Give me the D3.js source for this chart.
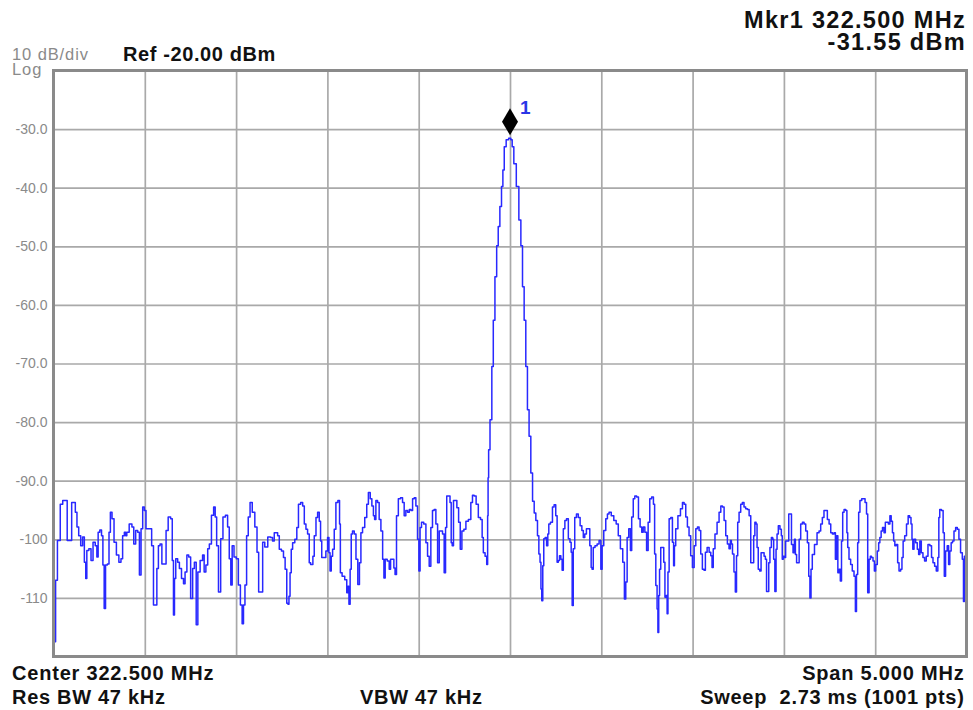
<!DOCTYPE html>
<html>
<head>
<meta charset="utf-8">
<script src="https://cdn.jsdelivr.net/npm/d3@7"></script>
<style>
  html, body { margin: 0; padding: 0; background: #fff; }
  svg { display: block; font-family: "Liberation Sans", Arial, Helvetica, sans-serif; }
</style>
</head>
<body>
<svg id="chart" width="973" height="710"></svg>
<script>
// Analyzer settings
const centerMHz = 322.5;
const spanMHz = 5;
const refLevelDbm = -20;
const dbPerDiv = 10;
const divisions = 10;
const resBwKHz = 47;
const vbwKHz = 47;
const sweepMs = 2.73;
const sweepPts = 1001;

// Left-axis labels (the top and bottom graticule lines carry none)
const yTickLevels = [-30, -40, -50, -60, -70, -80, -90, -100, -110];

// Marker 1
const markerMHz = 322.5;
const markerDbm = -31.55;

// Trace: [frequency MHz, level dBm]
const sweepPoints = [
  [320.000,-105.6],[320.008,-117.5],[320.015,-107.0],[320.028,-100.2],[320.046,-94.0],[320.055,-93.4],
  [320.068,-93.4],[320.082,-100.2],[320.095,-100.2],[320.104,-93.7],[320.115,-93.7],[320.124,-95.4],
  [320.133,-97.9],[320.143,-99.4],[320.155,-101.1],[320.164,-99.6],[320.174,-103.9],[320.179,-106.7],
  [320.186,-101.9],[320.201,-101.6],[320.210,-103.6],[320.223,-100.5],[320.234,-101.1],[320.241,-103.0],
  [320.248,-98.8],[320.259,-98.4],[320.267,-99.4],[320.274,-104.4],[320.281,-111.8],[320.289,-104.4],
  [320.301,-104.2],[320.307,-98.8],[320.316,-95.4],[320.325,-96.5],[320.338,-100.5],[320.351,-102.7],
  [320.365,-103.9],[320.374,-103.3],[320.383,-99.4],[320.393,-98.8],[320.398,-99.4],[320.405,-98.8],
  [320.424,-97.4],[320.435,-97.9],[320.444,-100.8],[320.456,-98.5],[320.466,-98.8],[320.475,-106.1],
  [320.484,-98.2],[320.493,-94.5],[320.502,-95.1],[320.511,-98.2],[320.533,-98.2],[320.542,-101.1],
  [320.553,-111.2],[320.562,-111.2],[320.570,-105.0],[320.579,-101.1],[320.588,-100.8],[320.599,-104.2],
  [320.612,-104.2],[320.621,-98.5],[320.635,-96.2],[320.648,-96.5],[320.653,-103.6],[320.661,-112.9],
  [320.664,-106.7],[320.675,-103.3],[320.685,-103.9],[320.694,-105.0],[320.708,-106.7],[320.716,-107.6],
  [320.725,-105.6],[320.736,-102.7],[320.745,-103.0],[320.757,-110.1],[320.767,-105.0],[320.776,-103.9],
  [320.787,-114.6],[320.794,-105.6],[320.812,-103.6],[320.821,-102.7],[320.829,-105.6],[320.840,-104.4],
  [320.849,-101.6],[320.858,-100.8],[320.872,-95.9],[320.882,-94.5],[320.889,-96.2],[320.898,-101.1],
  [320.909,-109.0],[320.922,-99.9],[320.934,-96.2],[320.949,-95.9],[320.958,-97.9],[320.967,-103.3],
  [320.975,-107.8],[320.982,-101.1],[320.995,-103.0],[321.007,-103.3],[321.018,-107.8],[321.029,-111.2],
  [321.037,-114.4],[321.044,-111.2],[321.053,-107.8],[321.062,-99.4],[321.071,-96.2],[321.082,-93.7],
  [321.095,-95.4],[321.110,-97.9],[321.119,-102.2],[321.128,-109.0],[321.141,-109.0],[321.150,-100.5],
  [321.164,-101.3],[321.183,-99.6],
  [321.195,-99.7],[321.204,-100.3],[321.214,-98.9],[321.223,-98.9],[321.232,-99.4],[321.241,-101.7],
  [321.256,-102.0],[321.263,-103.1],[321.274,-105.1],[321.281,-110.9],[321.287,-111.1],[321.292,-109.7],
  [321.299,-105.7],[321.305,-101.7],[321.314,-100.6],[321.329,-100.0],[321.336,-98.0],[321.347,-94.0],
  [321.360,-93.7],[321.369,-94.3],[321.378,-97.4],[321.387,-98.3],[321.396,-99.1],[321.405,-104.0],
  [321.411,-104.3],[321.418,-104.3],[321.423,-102.9],[321.433,-99.4],[321.442,-96.3],[321.451,-95.4],
  [321.460,-96.9],[321.465,-100.3],[321.473,-103.1],[321.487,-103.1],[321.496,-102.0],[321.506,-99.7],
  [321.511,-102.3],[321.518,-105.4],[321.524,-102.9],[321.533,-101.7],[321.542,-98.3],[321.551,-93.7],
  [321.564,-93.4],[321.569,-97.4],[321.573,-105.7],[321.588,-106.3],[321.602,-106.9],[321.610,-109.1],
  [321.615,-108.0],[321.621,-111.1],[321.628,-105.1],[321.633,-99.1],[321.642,-98.6],[321.652,-99.1],
  [321.661,-103.4],[321.672,-107.7],[321.679,-104.0],[321.688,-98.9],[321.697,-98.0],[321.712,-96.3],
  [321.719,-94.0],[321.730,-92.0],[321.739,-93.1],[321.748,-94.3],[321.756,-96.0],[321.761,-96.6],
  [321.770,-93.4],[321.779,-93.7],[321.788,-96.6],[321.798,-98.6],[321.807,-103.4],[321.812,-106.6],
  [321.821,-103.4],[321.834,-103.7],[321.843,-105.1],[321.849,-103.4],[321.861,-103.4],[321.867,-104.9],
  [321.874,-106.0],[321.883,-96.0],[321.894,-93.1],[321.907,-92.9],[321.916,-93.7],[321.925,-96.0],
  [321.934,-95.1],[321.944,-95.4],[321.953,-94.9],[321.962,-95.1],[321.971,-93.1],[321.980,-92.9],
  [321.989,-94.3],[321.998,-100.0],[322.004,-105.4],[322.011,-98.0],[322.020,-97.1],[322.035,-97.4],
  [322.044,-100.6],[322.053,-102.9],[322.062,-104.6],[322.071,-98.0],[322.080,-95.1],[322.089,-94.9],
  [322.099,-97.4],[322.108,-104.0],[322.117,-98.6],[322.126,-98.6],[322.135,-99.1],[322.144,-105.7],
  [322.150,-98.0],[322.157,-92.6],[322.168,-92.6],[322.175,-93.7],[322.181,-100.6],[322.186,-101.1],
  [322.195,-93.4],[322.204,-93.4],[322.214,-94.6],[322.223,-97.1],[322.232,-101.7],[322.241,-98.6],
  [322.254,-98.3],[322.263,-96.9],[322.281,-96.6],[322.290,-93.7],[322.299,-92.5],[322.308,-92.6],
  [322.321,-94.0],[322.332,-96.3],[322.345,-96.6],[322.350,-99.7],[322.358,-102.3],[322.369,-102.9],
  [322.376,-104.3],
  [322.379,-96.0],[322.381,-89.5],[322.385,-84.7],[322.396,-79.6],[322.405,-70.5],[322.412,-62.6],
  [322.423,-55.2],[322.431,-49.9],[322.440,-46.6],[322.449,-43.2],[322.458,-39.8],[322.464,-37.0],
  [322.473,-33.0],[322.485,-31.8],[322.500,-31.55],[322.509,-31.8],[322.515,-33.0],[322.527,-35.9],
  [322.542,-39.8],[322.555,-45.5],[322.564,-49.9],[322.573,-56.9],[322.582,-62.6],[322.591,-70.5],
  [322.600,-77.9],[322.609,-82.4],[322.619,-88.7],[322.628,-93.5],[322.637,-95.5],[322.646,-96.8],
  [322.655,-99.4],[322.661,-102.5],[322.668,-103.9],[322.671,-108.5],[322.677,-110.5],[322.682,-104.5],
  [322.688,-99.9],[322.697,-99.7],[322.704,-101.1],[322.710,-99.1],[322.715,-97.4],[322.728,-97.1],
  [322.737,-94.5],[322.746,-94.1],[322.755,-96.0],[322.761,-103.9],[322.768,-103.6],[322.774,-102.8],
  [322.783,-103.4],[322.788,-105.3],[322.796,-98.2],[322.805,-96.8],[322.814,-96.5],[322.825,-99.9],
  [322.832,-100.5],[322.838,-102.2],[322.843,-111.3],[322.850,-101.6],[322.859,-96.3],[322.869,-95.7],
  [322.879,-96.3],[322.889,-97.7],[322.898,-98.5],[322.905,-99.7],[322.914,-99.1],[322.923,-98.2],
  [322.932,-98.2],[322.942,-101.1],[322.947,-104.8],[322.952,-105.1],[322.960,-101.4],[322.971,-101.1],
  [322.983,-100.8],[322.993,-100.2],[323.002,-105.1],[323.007,-101.1],[323.020,-98.5],[323.029,-96.5],
  [323.038,-95.7],[323.047,-95.4],[323.062,-96.0],[323.075,-96.8],[323.088,-97.4],[323.098,-99.4],
  [323.111,-101.6],[323.124,-103.9],[323.129,-110.2],[323.139,-107.3],[323.144,-99.7],[323.157,-98.2],
  [323.162,-101.9],[323.171,-96.2],[323.179,-93.1],[323.188,-92.6],[323.199,-92.8],[323.208,-96.5],
  [323.217,-97.9],[323.226,-98.8],[323.233,-97.9],[323.244,-98.8],[323.252,-101.9],[323.261,-97.1],
  [323.270,-93.1],[323.281,-92.8],[323.290,-94.0],[323.294,-102.5],[323.303,-107.9],[323.308,-111.9],
  [323.312,-115.9],[323.317,-109.6],[323.321,-105.1],[323.330,-101.4],[323.339,-101.4],[323.345,-103.9],
  [323.352,-109.9],[323.358,-109.6],[323.363,-112.7],[323.367,-105.6],[323.376,-96.5],[323.385,-96.3],
  [323.394,-100.5],[323.398,-104.5],[323.403,-101.1],[323.412,-98.2],[323.427,-96.0],[323.440,-94.8],
  [323.449,-93.7],[323.458,-94.0],[323.467,-96.2],[323.476,-97.9],[323.485,-99.4],[323.494,-102.8],
  [323.504,-104.8],[323.513,-101.1],[323.522,-98.2],[323.531,-97.9],[323.540,-98.5],[323.549,-102.5],
  [323.558,-105.1],[323.567,-105.3],[323.573,-102.2],[323.586,-101.4],[323.595,-102.2],[323.604,-102.8],
  [323.609,-104.8],[323.617,-101.6],[323.628,-99.1],[323.640,-97.1],[323.650,-95.4],[323.659,-94.3],
  [323.668,-94.5],[323.677,-96.8],[323.686,-99.4],[323.695,-100.8],[323.704,-101.6],[323.710,-100.2],
  [323.715,-100.8],[323.722,-102.5],[323.731,-105.6],[323.737,-109.0],[323.744,-102.8],[323.750,-97.1],
  [323.759,-95.4],[323.768,-94.0],[323.777,-93.7],[323.786,-94.5],[323.795,-94.8],
  [323.805,-94.9],[323.814,-96.0],[323.823,-104.0],[323.832,-104.0],[323.837,-99.4],[323.845,-97.1],
  [323.850,-97.4],[323.856,-101.4],[323.863,-105.1],[323.872,-105.4],[323.878,-102.3],[323.887,-102.3],
  [323.896,-102.9],[323.901,-103.4],[323.909,-108.9],[323.914,-108.9],[323.920,-104.0],[323.927,-101.4],
  [323.936,-99.7],[323.941,-100.0],[323.947,-103.4],[323.954,-108.9],[323.960,-101.7],[323.965,-99.1],
  [323.974,-97.7],[323.983,-98.3],[323.989,-99.4],[323.993,-103.4],[324.000,-102.9],[324.005,-103.1],
  [324.014,-100.3],[324.024,-100.3],[324.029,-95.7],[324.038,-95.7],[324.045,-100.9],[324.055,-102.3],
  [324.060,-100.0],[324.066,-102.6],[324.073,-104.0],[324.080,-104.0],[324.087,-100.0],[324.097,-97.4],
  [324.106,-97.1],[324.115,-97.4],[324.124,-98.6],[324.133,-100.6],[324.139,-106.3],[324.146,-110.0],
  [324.151,-105.1],[324.160,-102.6],[324.175,-100.9],[324.188,-98.9],[324.197,-98.6],[324.206,-97.4],
  [324.215,-96.3],[324.224,-95.1],[324.233,-95.1],[324.243,-96.6],[324.252,-97.4],[324.261,-98.9],
  [324.270,-99.1],[324.279,-98.9],[324.285,-103.4],[324.292,-99.4],[324.299,-105.7],[324.306,-105.1],
  [324.312,-107.1],[324.319,-100.3],[324.325,-95.4],[324.334,-94.9],[324.343,-95.1],[324.347,-98.9],
  [324.352,-101.4],[324.361,-103.4],[324.370,-104.3],[324.379,-105.4],[324.389,-106.3],[324.394,-112.3],
  [324.401,-106.0],[324.407,-100.6],[324.412,-95.4],[324.421,-93.4],[324.431,-93.1],[324.440,-93.1],
  [324.449,-93.7],[324.456,-95.7],[324.462,-109.1],[324.471,-103.4],[324.476,-102.9],[324.483,-103.1],
  [324.493,-103.7],[324.498,-105.4],[324.507,-104.3],[324.516,-102.0],[324.522,-100.6],[324.529,-99.7],
  [324.536,-98.6],[324.544,-98.0],[324.553,-98.9],[324.558,-97.1],[324.567,-97.1],[324.577,-97.4],
  [324.584,-96.0],[324.591,-96.9],[324.598,-98.9],[324.604,-100.3],[324.611,-101.1],[324.620,-100.9],
  [324.626,-104.0],[324.635,-105.4],[324.644,-105.1],[324.649,-103.1],[324.657,-100.3],[324.666,-99.4],
  [324.677,-97.4],[324.684,-96.0],[324.693,-96.3],[324.699,-97.4],[324.704,-100.0],[324.708,-101.7],
  [324.717,-100.0],[324.726,-100.6],[324.735,-101.7],[324.741,-102.6],[324.748,-100.3],[324.757,-102.3],
  [324.766,-103.1],[324.775,-103.7],[324.784,-102.9],[324.794,-100.9],[324.805,-101.1],[324.812,-103.1],
  [324.821,-104.0],[324.830,-104.6],[324.839,-105.4],[324.847,-103.1],[324.850,-96.3],[324.857,-94.9],
  [324.868,-95.1],[324.876,-98.9],[324.881,-106.3],[324.890,-102.0],[324.899,-101.1],[324.905,-104.3],
  [324.912,-102.0],[324.920,-100.6],[324.927,-100.3],[324.936,-98.6],[324.945,-98.0],[324.954,-98.3],
  [324.963,-100.0],[324.972,-102.3],[324.982,-103.4],[324.985,-110.6],[324.992,-102.9],[325.000,-102.6]
];

// Number formatting with a plain hyphen for negatives
const locale = d3.formatLocale({ decimal: ".", thousands: ",", grouping: [3], currency: ["", ""], minus: "-" });
const fmt1 = locale.format(".1f"), fmt2 = locale.format(".2f"), fmt3 = locale.format(".3f"), fmtInt = locale.format("d");

const svg = d3.select("#chart");
const plot = { left: 53.5, right: 966.5, top: 70.5, bottom: 656.5 };

const startMHz = centerMHz - spanMHz / 2;
const stopMHz = centerMHz + spanMHz / 2;
const x = d3.scaleLinear().domain([startMHz, stopMHz]).range([plot.left, plot.right]);
const y = d3.scaleLinear()
  .domain([refLevelDbm - dbPerDiv * divisions, refLevelDbm])
  .range([plot.bottom, plot.top]);

const gridMHz = d3.range(divisions + 1).map(i => startMHz + i * spanMHz / divisions);
const gridDbm = d3.range(divisions + 1).map(i => refLevelDbm - i * dbPerDiv);

const gridColor = "#a9a9a9";
const frameColor = "#8a8a8a";
const labelGray = "#8a8a8a";
const traceBlue = "#2828ff";

// Graticule
const grid = svg.append("g");
grid.append("g")
  .attr("transform", `translate(0,${plot.bottom})`)
  .call(d3.axisBottom(x).tickValues(gridMHz).tickSize(-(plot.bottom - plot.top)).tickFormat(""))
  .call(g => g.select(".domain").remove())
  .call(g => g.selectAll("line").attr("stroke", gridColor).attr("stroke-width", 1.7));
grid.append("g")
  .attr("transform", `translate(${plot.left},0)`)
  .call(d3.axisLeft(y).tickValues(gridDbm).tickSize(-(plot.right - plot.left)).tickFormat(""))
  .call(g => g.select(".domain").remove())
  .call(g => g.selectAll("line").attr("stroke", gridColor).attr("stroke-width", 1.7));

// Level labels on the left
svg.append("g")
  .attr("transform", `translate(${plot.left},0)`)
  .call(d3.axisLeft(y).tickValues(yTickLevels).tickSize(0).tickPadding(6)
    .tickFormat(v => Math.abs(v) >= 100 ? fmtInt(v) : fmt1(v)))
  .call(g => g.select(".domain").remove())
  .call(g => g.selectAll("text")
    .attr("fill", labelGray)
    .style("font-size", "14px")
    .style("font-family", "'Liberation Sans', Arial, sans-serif"));

// Trace
svg.append("clipPath").attr("id", "plotClip")
  .append("rect")
  .attr("x", plot.left).attr("y", plot.top)
  .attr("width", plot.right - plot.left).attr("height", plot.bottom - plot.top);

const line = d3.line().curve(d3.curveStep).x(d => x(d[0])).y(d => y(d[1]));
svg.append("path")
  .datum(sweepPoints)
  .attr("clip-path", "url(#plotClip)")
  .attr("fill", "none")
  .attr("stroke", traceBlue)
  .attr("stroke-width", 1.5)
  .attr("stroke-linejoin", "round")
  .attr("d", line);

// Frame
svg.append("rect")
  .attr("x", plot.left).attr("y", plot.top)
  .attr("width", plot.right - plot.left).attr("height", plot.bottom - plot.top)
  .attr("fill", "none")
  .attr("stroke", frameColor)
  .attr("stroke-width", 3);

// Marker 1 diamond and number
const mx = x(markerMHz), my = y(markerDbm);
svg.append("path")
  .attr("d", `M${mx},${my - 3} L${mx + 8},${my - 16.5} L${mx},${my - 30} L${mx - 8},${my - 16.5} Z`)
  .attr("fill", "#000");
svg.append("text")
  .attr("x", mx + 10).attr("y", my - 24)
  .attr("fill", "#2a36e6")
  .style("font-size", "19px").style("font-weight", "bold")
  .text("1");

// Annotations
function label(txt, xPos, yPos, opts) {
  return svg.append("text")
    .attr("x", xPos).attr("y", yPos)
    .attr("fill", opts.color || "#111")
    .attr("text-anchor", opts.anchor || "start")
    .style("font-size", opts.size + "px")
    .style("font-weight", opts.bold ? "bold" : "normal")
    .style("letter-spacing", (opts.spacing || 0) + "px")
    .style("white-space", "pre")
    .text(txt);
}

label(`${dbPerDiv} dB/div`, 12, 60, { size: 16.5, color: labelGray, spacing: 0.9 });
label("Log", 12, 75, { size: 16.5, color: labelGray, spacing: 0.9 });
label(`Ref ${fmt2(refLevelDbm)} dBm`, 123, 61, { size: 20, bold: true, spacing: 0.6 });

label(`Mkr1 ${fmt3(markerMHz)} MHz`, 966, 28, { size: 23.5, bold: true, spacing: 1.3, anchor: "end" });
label(`${fmt2(markerDbm)} dBm`, 966, 50, { size: 23.5, bold: true, spacing: 1.3, anchor: "end" });

label(`Center ${fmt3(centerMHz)} MHz`, 12, 680, { size: 20, bold: true, spacing: 0.8 });
label(`Res BW ${resBwKHz} kHz`, 12, 704, { size: 20, bold: true, spacing: 0.7 });
label(`VBW ${vbwKHz} kHz`, 360, 704, { size: 20, bold: true, spacing: 0.7 });
label(`Span ${fmt3(spanMHz)} MHz`, 964.5, 680, { size: 20, bold: true, spacing: 0.8, anchor: "end" });
label(`Sweep  ${sweepMs} ms (${sweepPts} pts)`, 964.5, 704, { size: 20, bold: true, spacing: 0.7, anchor: "end" });
</script>
</body>
</html>
